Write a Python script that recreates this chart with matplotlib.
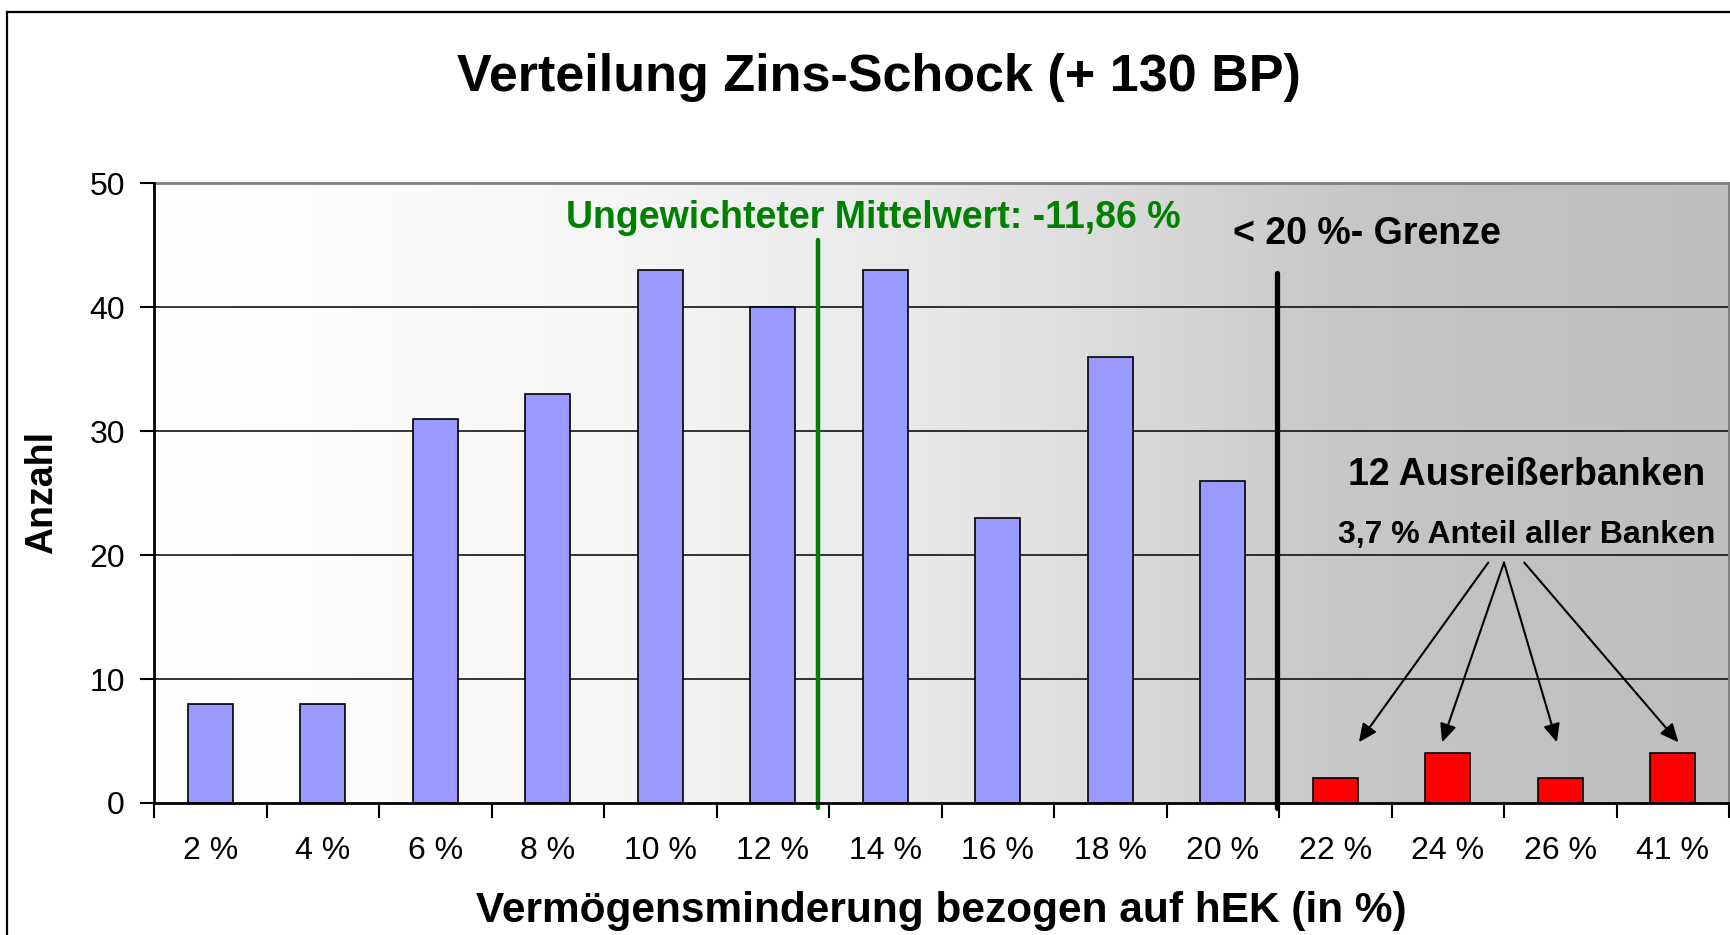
import numpy as np
import matplotlib
matplotlib.use('Agg')
import matplotlib.pyplot as plt
from matplotlib.colors import LinearSegmentedColormap
from matplotlib.lines import Line2D

plt.rcParams['font.family'] = ['Liberation Sans', 'DejaVu Sans']

# Daten
kategorien = ['2 %', '4 %', '6 %', '8 %', '10 %', '12 %', '14 %', '16 %',
              '18 %', '20 %', '22 %', '24 %', '26 %', '41 %']
anzahl = [8, 8, 31, 33, 43, 40, 43, 23, 36, 26, 2, 4, 2, 4]
ausreisser = [False] * 10 + [True] * 4
mittelwert_pos = 5.4      # Lage der Mittelwert-Linie auf der Kategorienachse
grenze_pos = 9.48         # Lage der 20 %-Grenze

farben = ['#FF0000' if a else '#9999FF' for a in ausreisser]
x = np.arange(len(kategorien))

fig = plt.figure(figsize=(17.3, 9.35), dpi=100)
ax = fig.add_axes([154 / 1730, 132 / 935, 1575 / 1730, 619.7 / 935])

# Hintergrund: horizontaler Verlauf weiss -> grau
cmap = LinearSegmentedColormap.from_list('bg', [
    (0.0, '#FFFFFF'), (0.1, '#FDFDFD'), (0.3, '#F5F5F5'), (0.45, '#EBEBEB'),
    (0.55, '#E2E2E2'), (0.65, '#D6D6D6'), (0.72, '#CCCCCC'), (0.8, '#C4C4C4'),
    (1.0, '#BEBEBE')], N=256)
grad = np.linspace(0, 1, 512).reshape(1, -1)
ax.imshow(grad, aspect='auto', cmap=cmap, extent=[-0.5, len(x) - 0.5, 0, 50],
          zorder=0, interpolation='bilinear')

ax.set_xlim(-0.5, len(x) - 0.5)
ax.set_ylim(0, 50)

# Gitternetz
for yv in [10, 20, 30, 40]:
    ax.axhline(yv, color='black', lw=1.1, zorder=1)
ax.axhline(50, color='#808080', lw=2, zorder=1, clip_on=False)

ax.bar(x, anzahl, width=0.4, color=farben, edgecolor='black', linewidth=1.2, zorder=3)

# Linien
ax.plot([mittelwert_pos, mittelwert_pos], [-0.4, 45.4], color='#008000', lw=3.2,
        solid_capstyle='round', zorder=4, clip_on=False)
ax.plot([grenze_pos, grenze_pos], [-0.4, 42.8], color='black', lw=3.8,
        solid_capstyle='round', zorder=4, clip_on=False)

# Achsen
for s in ['left', 'bottom']:
    ax.spines[s].set_linewidth(2)
    ax.spines[s].set_zorder(5)
ax.spines['top'].set_visible(False)
ax.spines['right'].set_color('#808080')
ax.spines['right'].set_linewidth(2)

ax.set_xticks(np.arange(len(x) + 1) - 0.5)
ax.set_xticklabels([])
ax.set_xticks(x, minor=True)
ax.set_xticklabels(kategorien, minor=True, fontsize=23)
ax.tick_params(axis='x', which='major', length=11, width=1.5, direction='out')
ax.tick_params(axis='x', which='minor', length=0, pad=24)
ax.set_yticks([0, 10, 20, 30, 40, 50])
ax.tick_params(axis='y', length=10, width=1.5, direction='out', labelsize=23, pad=11)

ax.set_xlabel('Vermögensminderung bezogen auf hEK (in %)', fontsize=30.5,
              fontweight='bold', va='center')
ax.xaxis.set_label_coords(0.4997, -0.174)
ax.set_ylabel('Anzahl', fontsize=27, fontweight='bold', va='center')
ax.yaxis.set_label_coords(-0.0711, 0.501)

# Beschriftungen
ax.text(5.89, 47.2, 'Ungewichteter Mittelwert: -11,86 %', color='#008000',
        fontsize=27, fontweight='bold', ha='center', va='center', zorder=6)
ax.text(10.28, 45.9, '< 20 %- Grenze', fontsize=27, fontweight='bold',
        ha='center', va='center', zorder=6)
ax.text(11.70, 26.5, '12 Ausreißerbanken', fontsize=27, fontweight='bold',
        ha='center', va='center', zorder=6)
ax.text(11.70, 21.6, '3,7 % Anteil aller Banken', fontsize=23, fontweight='bold',
        ha='center', va='center', zorder=6)

pfeile = [((11.36, 19.4), (10.21, 4.9)),
          ((11.50, 19.4), (10.95, 4.9)),
          ((11.50, 19.4), (11.97, 4.9)),
          ((11.68, 19.4), (13.05, 4.9))]
for start, ziel in pfeile:
    ax.annotate('', xy=ziel, xytext=start,
                arrowprops=dict(arrowstyle='-|>,head_length=1.1,head_width=0.5',
                                color='black', lw=1.5, shrinkA=0, shrinkB=0),
                zorder=6)

fig.text(879 / 1730, 1 - 77 / 935, 'Verteilung Zins-Schock (+ 130 BP)',
         fontsize=37.5, fontweight='bold', ha='center', va='center')

# Rahmen um das Diagramm
fig.add_artist(Line2D([7 / 1730, 7 / 1730], [0, 1 - 12 / 935], color='black', lw=1.6,
                      transform=fig.transFigure))
fig.add_artist(Line2D([7 / 1730, 1], [1 - 12 / 935, 1 - 12 / 935], color='black', lw=1.6,
                      transform=fig.transFigure))

fig.savefig('out.png', dpi=100)
